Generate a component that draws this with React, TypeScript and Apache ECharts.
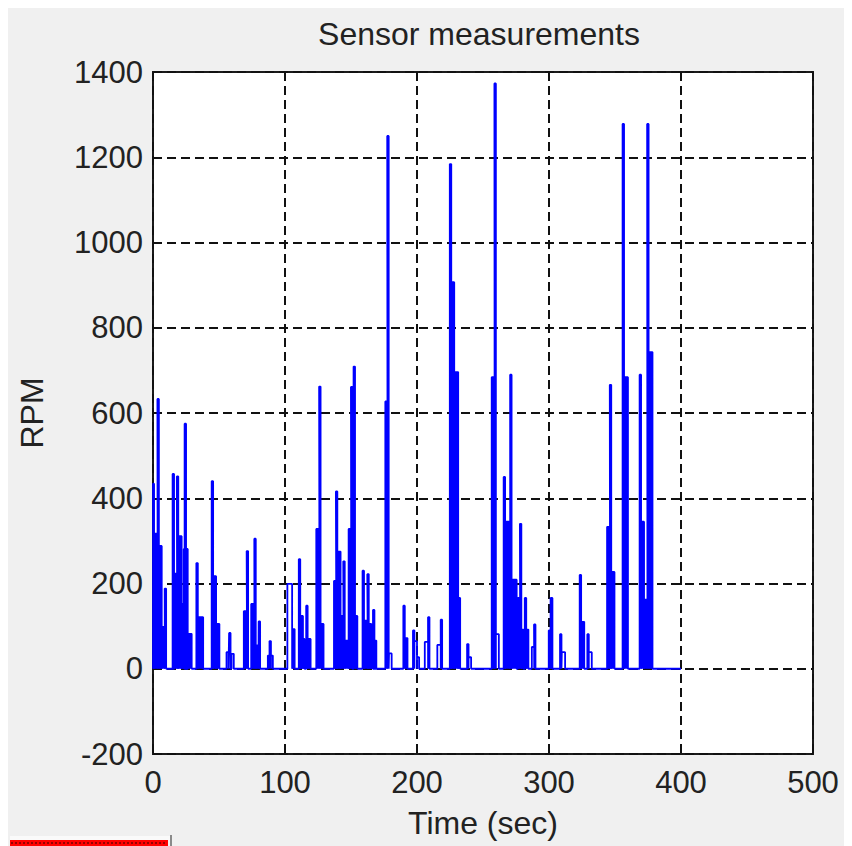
import React, { useEffect, useRef } from "react";
import * as echarts from "echarts";

// Narrow spikes: [time (sec), rpm]
const spikes: [number, number][] = [
  [3.9, 633], [9.4, 188], [15.4, 457], [18.6, 451], [24.5, 575], [33.4, 248],
  [45.0, 440], [58.2, 84], [71.5, 276], [77.3, 305], [80.6, 111], [88.8, 65],
  [111.0, 257], [116.6, 148], [126.4, 662], [139.1, 416], [144.7, 252],
  [150.5, 661], [152.5, 709], [159.3, 230], [162.9, 222], [167.2, 138],
  [178.0, 1250], [190.2, 148], [197.5, 90], [208.9, 121], [218.5, 115],
  [225.4, 1184], [238.5, 58], [259.2, 1373], [266.2, 450], [271.1, 690],
  [278.5, 340], [282.2, 166], [289.2, 104], [308.9, 81], [323.8, 220],
  [329.6, 81], [346.6, 666], [356.3, 1278], [369.2, 690], [374.9, 1278],
];

// Dense bursts (appear solid): [start, end, rpm]
const bursts: [number, number, number][] = [
  [0.0, 0.8, 434], [0.8, 3.6, 317], [4.2, 6.6, 288], [6.6, 9.0, 98],
  [15.2, 18.4, 223], [18.8, 21.7, 311], [21.7, 23.3, 152], [23.3, 26.3, 281],
  [26.3, 29.3, 82], [33.6, 38.0, 121], [45.2, 47.8, 217], [47.8, 50.3, 105],
  [68.8, 71.3, 135], [74.4, 76.9, 152], [77.6, 79.9, 55], [105.4, 107.3, 93],
  [111.2, 113.6, 124], [113.6, 114.8, 70], [116.8, 119.4, 70],
  [123.7, 126.2, 328], [127.0, 129.2, 105], [137.1, 139.0, 206],
  [139.4, 142.1, 275], [142.1, 144.4, 124], [145.0, 148.2, 66],
  [148.2, 150.3, 328], [152.8, 154.8, 124], [159.5, 162.8, 113],
  [163.1, 165.4, 105], [165.4, 169.2, 66], [176.0, 177.8, 627],
  [190.5, 192.8, 72], [225.7, 228.2, 907], [228.2, 231.2, 696],
  [231.2, 232.7, 166], [256.6, 258.9, 684], [266.5, 270.6, 345],
  [271.5, 275.5, 209], [276.4, 278.2, 166], [278.8, 280.7, 92],
  [282.6, 284.4, 92], [299.8, 301.2, 90], [301.2, 302.6, 166],
  [324.2, 326.7, 110], [344.0, 346.3, 333], [346.8, 349.6, 227],
  [356.8, 359.8, 684], [369.6, 372.0, 345], [372.0, 374.6, 162],
  [375.4, 378.4, 743],
];

// Hollow low plateaus: [start, end, rpm]
const plateaus: [number, number, number][] = [
  [55.7, 57.2, 39], [59.5, 61.2, 35], [87.0, 88.3, 31], [89.2, 90.8, 31],
  [101.8, 105.4, 199], [178.8, 180.8, 36], [198.0, 200.0, 65],
  [200.0, 201.6, 27], [205.9, 208.4, 63], [215.4, 218.0, 56],
  [239.0, 241.0, 27], [259.7, 262.0, 81], [287.0, 288.8, 51],
  [309.7, 312.2, 39], [330.0, 332.4, 39],
];

const startTime = 0;
const endTime = 400;
const spikeWidth = 1.1;

const xMin = 0, xMax = 500, xStep = 100;
const yMin = -200, yMax = 1400, yStep = 200;

const titleText = "Sensor measurements";
const xName = "Time (sec)";
const yName = "RPM";

const FONT = "'Liberation Sans', Arial, Helvetica, sans-serif";

function pulsesToLine(pulses: [number, number, number][]) {
  const sorted = [...pulses].sort((a, b) => a[0] - b[0]);
  const pts: [number, number][] = [[startTime, 0]];
  for (const [t0, t1, v] of sorted) {
    pts.push([t0, 0], [t0, v], [t1, v], [t1, 0]);
  }
  pts.push([endTime, 0]);
  return pts;
}

export default function App() {
  const ref = useRef<HTMLDivElement>(null);
  useEffect(() => {
    if (!ref.current) return;
    const chart = echarts.init(ref.current, undefined, { renderer: "svg" });
    const all: [number, number, number][] = [
      ...bursts,
      ...plateaus,
      ...spikes.map(([t, v]) => [t - spikeWidth / 2, t + spikeWidth / 2, v] as [number, number, number]),
    ];
    const outline = pulsesToLine(all);
    const area = pulsesToLine(bursts);
    const splitStyle = { type: [9, 5] as number[], color: "#111111", width: 2 };
    const plain = (v: number) => String(v);
    chart.setOption({
      animation: false,
      backgroundColor: "#f0f0f0",
      textStyle: { fontFamily: FONT },
      grid: {
        left: 144,
        top: 64,
        width: 661,
        height: 682,
        show: true,
        backgroundColor: "#ffffff",
        borderColor: "#1a1a1a",
        borderWidth: 2,
      },
      graphic: [
        {
          type: "text",
          x: 471,
          y: 26,
          style: {
            text: titleText,
            fontSize: 32,
            fontFamily: FONT,
            fill: "#222",
            align: "center",
            verticalAlign: "middle",
          },
        },
        { type: "rect", shape: { x: 2, y: 828, width: 160, height: 4 }, style: { fill: "#fafafa" } },
        { type: "rect", shape: { x: 2, y: 832, width: 158, height: 6 }, style: { fill: "#ff0000" } },
        {
          type: "line",
          shape: { x1: 3, y1: 835, x2: 159, y2: 835 },
          style: { stroke: "#7a0000", lineWidth: 1.5, lineDash: [2, 2] },
        },
        { type: "rect", shape: { x: 162, y: 827, width: 2, height: 11 }, style: { fill: "#8a8a8a" } },
      ],
      xAxis: {
        type: "value",
        min: xMin,
        max: xMax,
        interval: xStep,
        name: xName,
        nameLocation: "middle",
        nameGap: 53,
        nameTextStyle: { fontSize: 32, color: "#222", fontFamily: FONT },
        axisLine: { show: false },
        axisTick: { show: false },
        axisLabel: { fontSize: 31, color: "#222", margin: 13, fontFamily: FONT, formatter: plain },
        splitLine: { show: true, lineStyle: splitStyle },
      },
      yAxis: {
        type: "value",
        min: yMin,
        max: yMax,
        interval: yStep,
        name: yName,
        nameLocation: "middle",
        nameGap: 105,
        nameTextStyle: { fontSize: 32, color: "#222", fontFamily: FONT },
        axisLine: { show: false },
        axisTick: { show: false },
        axisLabel: { fontSize: 31, color: "#222", margin: 10, fontFamily: FONT, formatter: plain },
        splitLine: { show: true, lineStyle: splitStyle },
      },
      series: [
        {
          type: "line",
          data: area,
          symbol: "none",
          showSymbol: false,
          lineStyle: { width: 0, color: "#0000ff" },
          areaStyle: { color: "#0000ff", opacity: 1, origin: 0 },
          z: 2,
          silent: true,
        },
        {
          type: "line",
          data: outline,
          symbol: "none",
          showSymbol: false,
          lineStyle: { width: 1.8, color: "#0000ff" },
          z: 3,
          silent: true,
        },
      ],
    });
    return () => chart.dispose();
  }, []);
  return <div ref={ref} style={{ width: 844, height: 838 }} />;
}
